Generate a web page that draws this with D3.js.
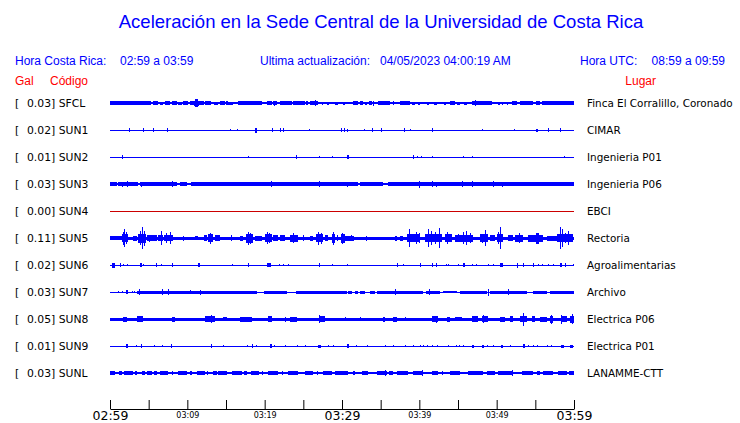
<!DOCTYPE html>
<html><head><meta charset="utf-8">
<script src="https://cdn.jsdelivr.net/npm/d3@7"></script>
<style>body{margin:0;background:#fff}svg{display:block}</style>
</head><body>
<script>
// ---------- data ----------
const codes  = ["SFCL","SUN1","SUN2","SUN3","SUN4","SUN5","SUN6","SUN7","SUN8","SUN9","SUNL"];
const gals   = [0.03, 0.02, 0.01, 0.03, 0.00, 0.11, 0.02, 0.03, 0.05, 0.01, 0.03];
const places = ["Finca El Corralillo, Coronado","CIMAR","Ingenieria P01","Ingenieria P06","EBCI","Rectoria","Agroalimentarias","Archivo","Electrica P06","Electrica P01","LANAMME-CTT"];
// background noise half-amplitude (relative units) per station
const baseNoise = [0.6, 0.5, 0.5, 0.6, 0.5, 1.5, 0.5, 0.5, 1.5, 0.5, 1.0];
const tickMinutes = [0,5,10,15,20,25,30,35,40,45,50,55,60];
const tickLabels  = ["02:59","","03:09","","03:19","","03:29","","03:39","","03:49","","03:59"];
const bigTicks    = ["02:59","03:29","03:59"];

// events: [startMinute, endMinute, halfAmplitude] or [minute, halfAmplitude] (spike)
const sfcl = [[0,5.3,1.7],[5.5,6.2,1.7],[6.5,6.9,1.5],[7.1,7.75,1.7],[8,8.6,1.7],[8.8,9.35,1.5],[9.5,10.1,1.7],[9.6,9.7,2.3],[10.35,11,1.7],[10.9,11.5,2.5],[11.05,11.35,3.8],[11.4,12.1,1.7],[12.3,13.1,1.7],[13.4,14,1.5],[14.2,14.9,1.7],[15,15.2,2.3],[15.3,15.95,1.5],[16.6,19.6,1.7],[20.25,20.9,1.7],[21.1,21.55,1.7],[21.2,21.35,2.5],[22,23.5,1.7],[23.7,25.2,1.7],[25.4,25.55,2.2],[25.85,26.95,1.7],[26.5,26.7,3.3],[27.35,27.6,1.5],[28,28.3,1.5],[29.1,29.5,1.5],[30.15,30.4,1.5],
  [31.45,32.1,1.7],[32.3,32.75,1.7],[33,33.2,1.5],[33.5,33.85,1.7],[34,34.15,2.5],[34.7,36.2,1.7],[36.6,36.75,2.2],[37.5,38.8,1.7],[39.1,39.45,1.5],[39.85,40.1,1.5],[40.3,40.4,1.3],[40.95,41.2,1.5],[41.95,42.25,1.5],[43.2,43.45,1.5],[43.95,44.6,1.7],[44.9,45.25,1.5],[45.75,46.1,1.5],[46.8,49.35,1.7],[47.15,47.3,2.8],[48.65,48.8,2.3],[50.2,50.45,1.5],[50.65,50.85,1.5],[51.3,51.5,1.5],[51.95,52.6,1.7],[53,54.75,1.7],[53.2,53.35,2.3],[55.15,55.6,1.7],[55.8,60,1.7]];
const sun1 = [[2.5,1.7],[4.31,1.7],[5.6,1.7],[7.41,1.7],[15.5,1],[16.46,16.6,1.3],[18.75,18.95,2.5],[20.99,1.7],[22.02,1.7],[22.41,1.7],[25.77,1],[29.93,1.7],[30.2,1.7],[30.6,30.75,1.5],[32.89,1],[33.92,1.7],[35,1.7],[38.06,1.7],[38.83,1],[41.68,1.7],[48.06,1],[52.28,1],[55.1,55.35,1.5],[56.68,1.7],[58.2,1.7]];
const sun2 = [[1.59,1.7],[17.88,1],[24.09,1.7],[27.07,1.3],[28.66,1],[30.6,30.9,1.7],[39.14,1.7],[39.65,1.3],[40.17,1],[41.68,1],[45.6,1],[46.8,47,1.3],[58.75,1.3]];
const sun3 = [[0,0.85,1.6],[1.05,3.65,1.6],[3.85,8.6,1.6],[9.05,9.9,1.6],[10.45,32.1,1.6],[32.35,35.3,1.6],[35.9,60,1.6],
  [1.59,2.5],[2.15,3.2],[4.0,2.5],[5.73,2.2],[7.97,3.3],[13.06,2.2],[18.23,2.2],[20.77,2.8],[27.07,3],
  [30.69,2.5],[40,3.5],[41.68,3.2],[42.11,2.5],[43.66,2.2],[45.56,3],[46.77,3],[49.57,3.3],[50.64,2.5],[58.96,2.2]];
const sun4 = [];
const sun5 = [[0,1.5,2],[0.2,0.3,2.3],[0.85,0.95,2.2],
  [1.5,2.28,4],[1.7,1.8,6.5],[1.85,1.95,8.8],[2.05,2.1,6],[3.0,3.45,2.5],
  [3.66,4.61,4.5],[3.9,4.0,7],[4.15,4.22,11.3],[4.35,4.4,7.5],[4.74,6.03,3],[5.0,5.1,3.5],
  [6.25,6.9,3],[6.65,6.72,6.7],[7.0,8.2,3.2],[7.3,7.36,5],[7.82,7.88,6],[9.45,9.52,2.5],[11.0,11.4,2],
  [12.2,12.5,3],[12.7,13.35,4],[12.95,13.05,5.5],[13.55,14.2,3.2],[15.6,15.68,3],[16.8,17.25,2.5],
  [17.65,18.55,4.5],[17.9,18.0,6.5],[18.1,18.2,5.5],[18.75,19.6,2.5],[20.05,20.9,4],[20.3,20.4,6],[20.55,20.6,5],
  [21.1,21.75,3],[22.0,22.6,3],[23.25,24.25,3.5],[23.6,23.7,5],[24.97,25.03,3],[25.85,26.3,2.5],
  [26.7,27.6,4],[26.95,27.05,6.5],[27.25,27.3,5.5],[27.8,28.2,3],[28.65,29.1,4.5],[28.8,28.88,6.5],[29.3,29.35,3],
  [29.85,30.4,4.5],[29.95,30.05,5.5],[30.4,31.5,2.5],[31.2,31.3,3],[33.15,33.22,2.5],[36.85,37.1,2.5],[37.5,37.9,2.5],
  [38.35,40.1,4],[38.6,38.8,9],[39.6,39.7,6],[39.95,40.05,5],
  [40.7,42.9,4],[41.1,41.2,9],[41.55,41.65,7],[42.0,42.05,6],[42.5,42.6,10],
  [43.3,44.2,4],[43.55,43.65,6],[44.6,47.0,3.5],[45.0,45.1,4],[45.65,45.75,6],[46.05,46.15,7],[46.5,46.6,5],
  [47.8,48.9,4],[48.5,48.6,8],[48.05,48.1,4.5],[49.1,49.8,3],[50.0,50.85,4],[50.2,50.25,6],[50.4,50.5,11],
  [51.5,52.15,3],[52.35,53.45,3.5],[52.95,53.05,5],[54.1,56.0,3.5],[55.1,55.5,5.5],[56.45,57.75,2.5],
  [57.75,59.9,4],[58.15,58.25,11],[58.5,58.6,9],[58.8,58.9,5],[59.25,59.3,7]];
const sun6 = [[0.3,0.64,2.5],[1.25,1.35,1.7],[1.72,1.3],[2.15,1.3],[3.88,4.09,1.7],[4.31,1],[5.95,6.1,2.2],[6.59,1],[7.97,1.7],[11.42,11.63,1.7],[15.82,1],[17.8,1.7],[20.34,20.77,1.7],[21.85,1.3],[22.41,1.3],[22.97,1.3],[27.07,1.7],[28.75,1],
  [30.69,1.3],[37.1,37.25,1.7],[37.93,1],[40.08,1.7],[41.68,1.7],[42.15,1.7],[43.45,1],[43.75,1.3],[45.04,1.3],[45.6,45.9,2.2],[46.77,1],[47.33,1],[48.92,1.3],[49.57,1],[50.43,50.77,1.7],[52.58,2.5],[53.45,1.7],[54.65,54.87,1.7],[55.3,1.3],[55.82,1.3],[56.68,1.3],[57.33,1],[58.19,58.4,1.7],[58.84,1.7],[59.91,1.3]];
const sun7 = [[1.07,1.2],[1.5,1.2],[2.02,2.28,1.7],[2.8,1.2],[3.14,1.2],
  [3.55,18.95,1.5],[19.95,22.95,1.5],[24.1,30.6,1.5],[30.82,31.25,1.5],[31.68,32.1,1.5],[32.33,32.97,1.5],[33.62,34.27,1.5],[34.48,40.52,1.5],[40.86,42.67,1.5],[43.1,44.83,1.3],[45.26,48.71,1.5],[49.14,53.88,1.5],[54.74,56.46,1.5],[56.9,60,1.5],
  [3.75,3],[6.68,2.8],[7.54,3.3],[10.34,2.2],[11.63,2.5],[36.85,3],[41.29,3.3],[48.92,3.5],[51.51,2.8]];
const sun8 = [[1.72,2.15,2.5],[3.44,4.31,2.8],[3.85,3.92,3.3],[7.97,8.4,2.5],[12.28,13.57,3],[13.0,13.1,4.3],[14.65,15.08,2.3],[16.81,18.32,2.5],[20.47,20.9,2.8],[20.58,20.65,3.3],[22.6,22.68,2.5],[23.27,24.13,2.5],[27.07,27.8,2.8],[27.05,27.12,4],
  [30.35,30.43,2.2],[32.3,32.37,2],[35.34,35.56,2.5],[36.64,37.07,2.5],[38.12,38.18,2.2],[41.59,42.46,3],[42.2,42.28,3.5],[43.53,43.96,2.5],[44.61,45.47,2.3],[46.77,47.63,3],[48.06,48.92,3.3],[48.23,48.31,4.3],[50.43,51.08,2.5],[51.72,52.15,2.8],[53.02,53.88,3.3],[53.4,53.5,6.5],[54.53,54.96,3.3],[55.6,56.46,2.5],[56.9,57.33,3.5],[57.0,57.06,4.5],[58.4,59.05,3],[58.38,58.45,4.5],[59.48,60,3.5],[59.68,59.74,5]];
const sun9 = [[2.02,2.28,1.7],[3.36,1.3],[3.96,1.7],[5.73,1],[6.68,1],[7.9,8.05,1.7],[13.06,1.7],[14.65,1],[17.75,1],[18.32,1.7],[18.83,1.3],[20.69,20.9,1.7],[21.25,1],[22.63,1],[24.13,1.3],[25.21,1],[26.94,27.28,1.5],[28.23,1],[28.88,1],
  [30.69,30.95,1.7],[31.77,1.3],[33.27,1],[35.56,1.3],[36.55,1],[38.15,1.3],[39.14,1.3],[40.08,1.3],[40.52,1.3],[41.03,1.3],[41.59,1.3],[42.24,1.3],[43.66,1.3],[44.74,1],[45.17,1.3],[45.6,1.3],[46.77,47.07,1.5],[48.06,48.36,1.5],[48.71,1],[49.48,1.3],[50.56,50.86,1.5],[51.72,1.3],[53.36,53.71,1.7],[54.09,1],[54.65,1],[55.26,1.3],[56.46,1],[56.98,1.3],[58.32,58.71,1.5],[59.48,59.91,1.5]];
const sunl = [[0,0.64,2.2],[1.16,1.5,2.2],[1.85,3.01,2.2],[3.23,3.44,2.2],[4.09,4.52,2.2],[4.74,5.38,2.2],[5.73,6.03,2.2],[6.46,7.54,2.2],[7.97,8.19,2.2],[8.75,9.91,2.2],[10.34,10.56,2.2],[11.2,12.28,2.2],[12.5,12.71,2.2],[13.36,13.79,2.2],[14.0,15.08,2.2],[15.73,17.02,2.2],[17.37,17.67,2.2],[18.23,19.26,2.2],[19.61,19.82,2.2],[20.47,21.68,2.2],[22.2,22.41,2.2],[22.97,24.35,2.2],[25.21,26.29,2.2],[26.72,26.94,2.2],[27.58,28.66,2.2],[29.09,30.82,2.2],
  [31.38,31.68,2.2],[32.54,33.4,2.2],[34.48,35.77,2.2],[36.12,36.64,2.2],[37.07,38.58,2.2],[39.14,40.52,2.2],[41.59,42.46,2.2],[42.89,43.1,2.2],[43.96,45.26,2.2],[46.33,48.27,2.2],[48.71,49.78,2.2],[50.21,52.15,2.2],[53.23,54.74,2.2],[55.17,55.6,2.2],[56.03,57.33,2.2],[57.97,59.05,2.2],[59.4,60,2.2],
  [35.56,2.8],[40.3,2.8],[51.94,2.8]];
const traces = [sfcl, sun1, sun2, sun3, sun4, sun5, sun6, sun7, sun8, sun9, sunl];

const titleText = "Aceleración en la Sede Central de la Universidad de Costa Rica";
const hdrLocal  = ["Hora Costa Rica:", "02:59 a 03:59"];
const hdrUpdate = ["Ultima actualización:", "04/05/2023 04:00:19 AM"];
const hdrUTC    = ["Hora UTC:", "08:59 a 09:59"];
const colHeads  = ["Gal", "Código", "Lugar"];

// ---------- drawing ----------
const W = 740, H = 423;
const BLUE = "#0000ff", RED = "#ff0000";
const t0 = new Date(2023, 3, 5, 2, 59);
const t1 = new Date(2023, 3, 5, 3, 59);
const toDate = m => new Date(+t0 + m * 60000);

const svg = d3.select("body").append("svg").attr("width", W).attr("height", H);
svg.append("rect").attr("width", W).attr("height", H).attr("fill", "#fff");

const x = d3.scaleTime().domain([t0, t1]).range([110, 574]);
const y = d3.scalePoint().domain(codes).range([103, 373]);
const a = d3.scaleLinear().domain([0, 12]).range([0, 12]);

const sans = "'Liberation Sans', Arial, Helvetica, sans-serif";
const dejavu = "'DejaVu Sans', Verdana, sans-serif";

svg.append("text").attr("x", 381).attr("y", 28).attr("text-anchor", "middle")
  .attr("font-family", sans).attr("font-size", 18.5).attr("fill", BLUE).text(titleText);

const hdr = svg.append("g").attr("font-family", sans).attr("font-size", 12).attr("fill", BLUE);
hdr.append("text").attr("x", 15).attr("y", 65).text(hdrLocal[0]);
hdr.append("text").attr("x", 120).attr("y", 65).text(hdrLocal[1]);
hdr.append("text").attr("x", 260).attr("y", 65).text(hdrUpdate[0]);
hdr.append("text").attr("x", 380).attr("y", 65).text(hdrUpdate[1]);
hdr.append("text").attr("x", 580).attr("y", 65).text(hdrUTC[0]);
hdr.append("text").attr("x", 725).attr("y", 65).attr("text-anchor", "end").text(hdrUTC[1]);

const ch = svg.append("g").attr("font-family", sans).attr("font-size", 12).attr("fill", RED);
ch.append("text").attr("x", 15).attr("y", 85).text(colHeads[0]);
ch.append("text").attr("x", 50).attr("y", 85).text(colHeads[1]);
ch.append("text").attr("x", 656).attr("y", 85).attr("text-anchor", "end").text(colHeads[2]);

const rows = svg.selectAll("g.row").data(codes).join("g").attr("class", "row")
  .attr("transform", d => `translate(0,${y(d)})`);

rows.append("text").attr("x", 15).attr("y", 4).attr("font-family", dejavu).attr("font-size", 10.8)
  .attr("fill", "#000").text("[");
rows.append("text").attr("x", 27).attr("y", 4).attr("font-family", dejavu).attr("font-size", 10.8)
  .attr("fill", "#000").text((d, i) => `${gals[i].toFixed(2)}] ${d}`);
rows.append("text").attr("x", 587).attr("y", 4).attr("font-family", dejavu).attr("font-size", 10.4)
  .attr("fill", "#000").text((d, i) => places[i]);

rows.each(function(code, i) {
  const g = d3.select(this).attr("shape-rendering", "crispEdges");
  const col = code === "SUN4" ? "#cc0000" : BLUE;
  const b = Math.max(0.5, a(baseNoise[i]));
  g.append("rect").attr("x", x(t0)).attr("width", x(t1) - x(t0))
    .attr("y", -b).attr("height", 2 * b).attr("fill", col);
  const ev = traces[i].map(e => e.length === 2 ? [e[0], e[0], e[1]] : e);
  g.selectAll("rect.ev").data(ev).join("rect").attr("class", "ev")
    .attr("x", e => Math.round(x(toDate(e[0]))))
    .attr("width", e => Math.max(1, Math.round(x(toDate(e[1]))) - Math.round(x(toDate(e[0])))))
    .attr("y", e => -a(e[2]))
    .attr("height", e => 2 * a(e[2]))
    .attr("fill", col);
});

const axis = d3.axisBottom(x)
  .tickValues(tickMinutes.map(toDate))
  .tickSize(-9).tickSizeOuter(0)
  .tickFormat((d, i) => tickLabels[i]);
const ax = svg.append("g").attr("transform", "translate(0,409)").call(axis);
ax.select(".domain").attr("stroke", "#000");
ax.selectAll(".tick line").attr("stroke", "#000");
const isBig = d => bigTicks.includes(d3.timeFormat("%H:%M")(d));
ax.selectAll(".tick text")
  .attr("fill", "#000")
  .attr("font-family", dejavu)
  .attr("dy", 0)
  .attr("y", d => isBig(d) ? 11 : 8.5)
  .attr("font-size", d => isBig(d) ? 12.5 : 8);
</script>
</body></html>
